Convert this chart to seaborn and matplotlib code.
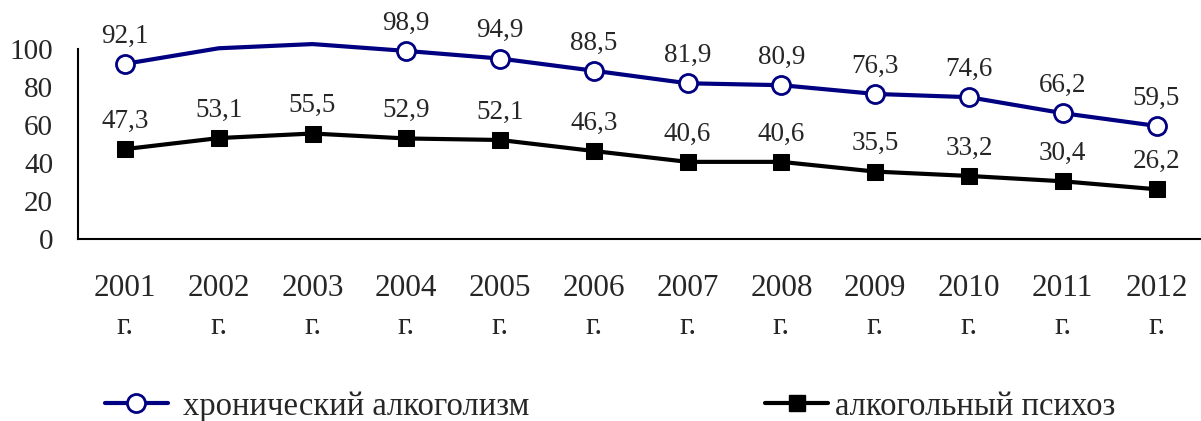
import numpy as np
import pandas as pd
import matplotlib
matplotlib.use("Agg")
import matplotlib.pyplot as plt
import seaborn as sns
from matplotlib.lines import Line2D

years = ["2001", "2002", "2003", "2004", "2005", "2006",
         "2007", "2008", "2009", "2010", "2011", "2012"]
chronic = [92.1, 100.3, 102.5, 98.9, 94.9, 88.5, 81.9, 80.9, 76.3, 74.6, 66.2, 59.5]
psychosis = [47.3, 53.1, 55.5, 52.9, 52.1, 46.3, 40.6, 40.6, 35.5, 33.2, 30.4, 26.2]
# years on the blue line that carry no marker / label in the original
chronic_unmarked = ["2002", "2003"]

label_chronic = "хронический алкоголизм"
label_psychosis = "алкогольный психоз"

sns.set_style("white")
plt.rcParams["font.family"] = ["Liberation Serif", "DejaVu Serif"]

df = pd.DataFrame({"pos": np.arange(len(years)), "year": years,
                   "chronic": chronic, "psychosis": psychosis})
marked = [i for i, y in enumerate(years) if y not in chronic_unmarked]

fig = plt.figure(figsize=(12.01, 4.21), dpi=100)
ax = fig.add_axes([0.065, 0.432, 0.937, 0.452])

blue = "#000080"
sns.lineplot(data=df, x="pos", y="chronic", ax=ax, color=blue, lw=3,
             marker="o", markersize=13, markerfacecolor="white",
             markeredgecolor=blue, markeredgewidth=2, markevery=marked,
             clip_on=False, zorder=3)
sns.lineplot(data=df, x="pos", y="psychosis", ax=ax, color="black", lw=3,
             marker="s", markersize=11, markerfacecolor="black",
             markeredgecolor="black", clip_on=False, zorder=3)

for i in marked:
    ax.annotate(f"{chronic[i]:.1f}".replace(".", ","), (i, chronic[i]),
                xytext=(0, 11), textcoords="offset points",
                ha="center", va="bottom", fontsize=19.5)
for i, v in enumerate(psychosis):
    ax.annotate(f"{v:.1f}".replace(".", ","), (i, v),
                xytext=(0, 11), textcoords="offset points",
                ha="center", va="bottom", fontsize=19.5)

ax.set_xlim(-0.5, len(years) - 0.5)
ax.set_ylim(0, 100)
ax.set_yticks(range(0, 101, 20))
ax.set_xticks(df["pos"])
ax.set_xticklabels([f"{y}\nг." for y in years], linespacing=1.43)
ax.set_xticks(np.arange(-0.5, len(years), 1), minor=True)
ax.tick_params(axis="x", which="major", length=0, pad=25, labelsize=22.5)
ax.tick_params(axis="x", which="minor", length=8, width=1.5, direction="out")
ax.tick_params(axis="y", length=8, width=1.5, direction="out", labelsize=21, pad=10)
ax.set_xlabel("")
ax.set_ylabel("")
for s in ["top", "right"]:
    ax.spines[s].set_visible(False)
for s in ["left", "bottom"]:
    ax.spines[s].set_linewidth(1.5)
    ax.spines[s].set_color("black")

h1 = Line2D([], [], color=blue, lw=3, marker="o", markersize=13,
            markerfacecolor="white", markeredgecolor=blue, markeredgewidth=2)
h2 = Line2D([], [], color="black", lw=3, marker="s", markersize=11)
fig.legend([h1], [label_chronic], loc="center left", bbox_to_anchor=(0.0874, 0.035),
           frameon=False, fontsize=23.5, handlelength=1.93, handletextpad=0.46,
           borderaxespad=0, borderpad=0)
fig.legend([h2], [label_psychosis], loc="center left", bbox_to_anchor=(0.637, 0.035),
           frameon=False, fontsize=23.5, handlelength=1.93, handletextpad=0.2,
           borderaxespad=0, borderpad=0)

fig.savefig("out.png", dpi=100)
